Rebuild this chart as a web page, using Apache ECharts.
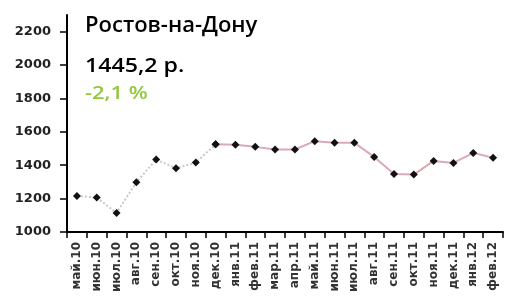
<!DOCTYPE html>
<html>
<head>
<meta charset="utf-8">
<script src="https://cdn.jsdelivr.net/npm/echarts@6/dist/echarts.min.js"></script>
<style>
html,body{margin:0;padding:0;background:#fff;}
#chart{width:506px;height:298px;}
</style>
</head>
<body>
<div id="chart"></div>
<script>
var categories = ['май.10','июн.10','июл.10','авг.10','сен.10','окт.10','ноя.10','дек.10','янв.11','фев.11','мар.11','апр.11','май.11','июн.11','июл.11','авг.11','сен.11','окт.11','ноя.11','дек.11','янв.12','фев.12'];
var prices = [1216,1206,1114,1298,1434,1382,1416,1526,1522,1510,1494,1494,1544,1534,1534,1450,1348,1344,1426,1414,1474,1445.2];
var yTickLabels = [1000,1200,1400,1600,1800,2000,2200];
var cityName = 'Ростов-на-Дону';
var priceText = '1445,2 р.';
var changeText = '-2,1 %';
var splitIndex = 7;

var earlyPart = prices.map(function(v,i){ return i <= splitIndex ? v : null; });
var latePart = prices.map(function(v,i){ return i >= splitIndex ? v : null; });

var chart = echarts.init(document.getElementById('chart'));
chart.setOption({
  animation: false,
  backgroundColor: '#fff',
  grid: {left: 67, right: 3, top: 15, bottom: 66},
  xAxis: {
    type: 'category',
    data: categories,
    boundaryGap: true,
    axisLine: {lineStyle: {color: '#000', width: 2}},
    axisTick: {show: true, length: 6, inside: false, lineStyle: {color: '#000', width: 1.5}},
    axisLabel: {rotate: 90, interval: 0, margin: 10, color: '#333', fontFamily: 'DejaVu Sans', fontWeight: 'bold', fontSize: 12}
  },
  yAxis: {
    type: 'value',
    min: 1000,
    max: 2300,
    splitLine: {show: false},
    axisLine: {show: true, lineStyle: {color: '#000', width: 2}},
    axisTick: {show: true, length: 7, customValues: yTickLabels, lineStyle: {color: '#000', width: 1.5}},
    axisLabel: {customValues: yTickLabels, margin: 16, color: '#222', fontFamily: 'DejaVu Sans', fontWeight: 'bold', fontSize: 13,
      formatter: function(v){ return String(v); }}
  },
  graphic: [
    {type: 'text', x: 85, y: 15, style: {text: cityName, fontFamily: 'Open Sans', fontWeight: 600, fontSize: 22, fill: '#000'}},
    {type: 'text', x: 85, y: 57, scaleX: 1.22, style: {text: priceText, fontFamily: 'Open Sans', fontWeight: 600, fontSize: 19, fill: '#000'}},
    {type: 'text', x: 85, y: 85, scaleX: 1.22, style: {text: changeText, fontFamily: 'Open Sans', fontWeight: 600, fontSize: 18, fill: '#92c83e'}}
  ],
  series: [
    {
      type: 'line',
      data: earlyPart,
      symbol: 'diamond',
      symbolSize: 8,
      itemStyle: {color: '#111'},
      lineStyle: {color: '#c8c8c8', width: 2, type: 'dotted'},
      connectNulls: false
    },
    {
      type: 'line',
      data: latePart,
      symbol: 'diamond',
      symbolSize: 8,
      itemStyle: {color: '#111'},
      lineStyle: {color: '#dcaab4', width: 2},
      connectNulls: false
    }
  ]
});
</script>
</body>
</html>
